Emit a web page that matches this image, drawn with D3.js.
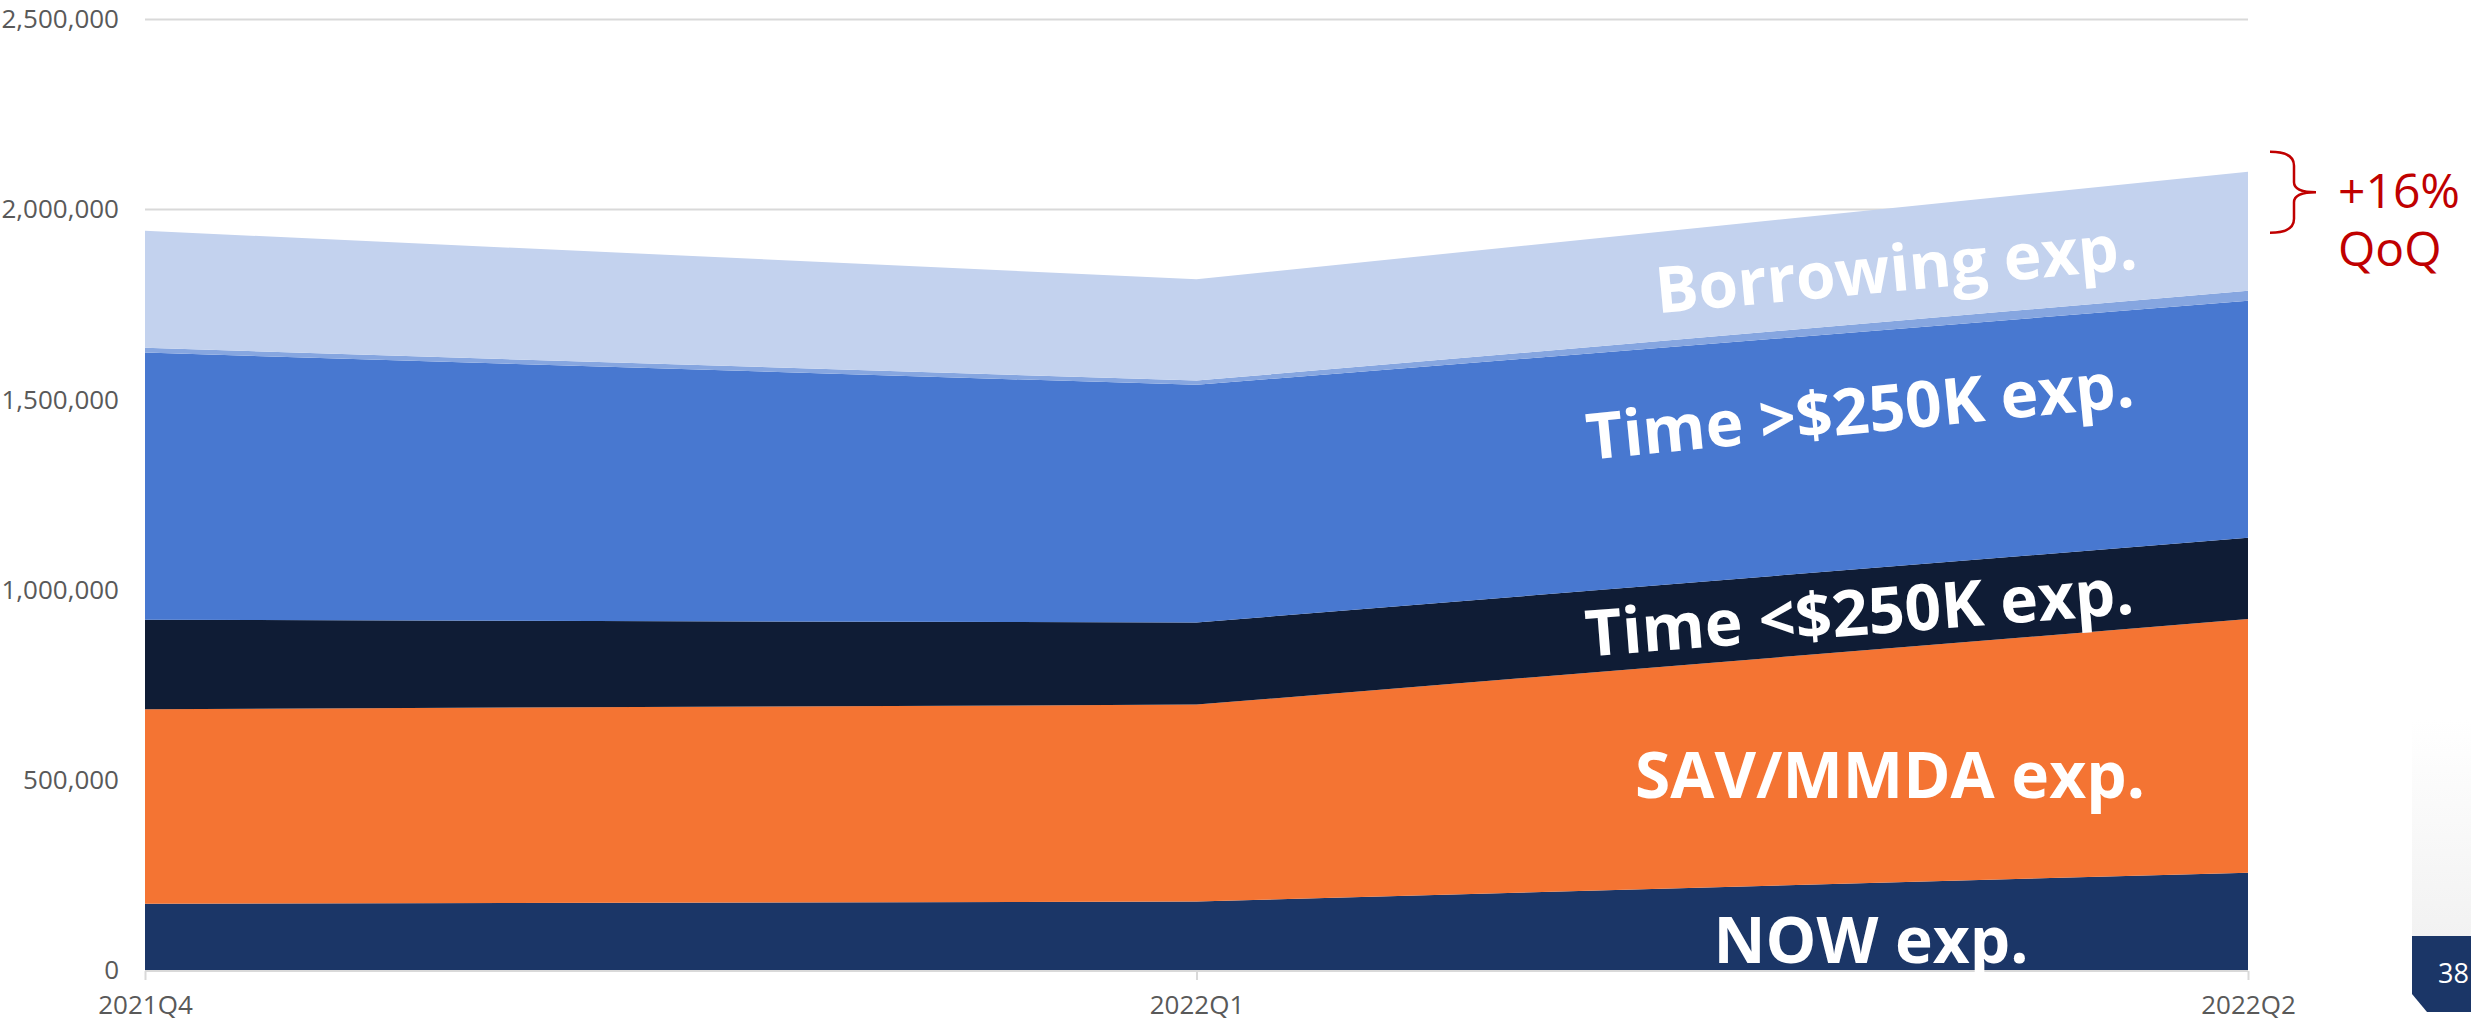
<!DOCTYPE html>
<html>
<head>
<meta charset="utf-8">
<script src="https://cdn.jsdelivr.net/npm/d3@7"></script>
<style>
  html, body { margin: 0; padding: 0; background: #fff; }
  svg { display: block; font-family: 'Open Sans', 'Noto Sans', sans-serif; }
</style>
</head>
<body>
<div id="chart"></div>
<script>
// quarters on the x axis
const quarters = ['2021Q4', '2022Q1', '2022Q2'];

// interest expense by deposit type, bottom to top
const nowExp = [174000, 180000, 256000];
const savExp = [512000, 518000, 667000];
const timeSmallExp = [235000, 216000, 214000];
const timeLargeExp = [703000, 625000, 623000];
const otherExp = [12400, 11300, 26300];
const borrowingExp = [307700, 266700, 313300];

const seriesKeys = ['now', 'sav', 'timeSmall', 'timeLarge', 'other', 'borrowing'];
const seriesColors = ['#1b3667', '#f47433', '#0f1c35', '#4878d0', '#86a6e0', '#c3d2ee'];

const yTicks = [0, 500000, 1000000, 1500000, 2000000, 2500000];

const qoqText = ['+16%', 'QoQ'];

const width = 2471;
const height = 1019;
const margin = { top: 19.5, right: 223, bottom: 49, left: 145 };

const svg = d3.select('#chart').append('svg')
  .attr('width', width)
  .attr('height', height);

const x = d3.scalePoint()
  .domain(quarters)
  .range([margin.left, width - margin.right]);

const y = d3.scaleLinear()
  .domain([0, 2500000])
  .range([height - margin.bottom, margin.top]);

/* ----------grid lines------------*/
svg.append('g')
  .selectAll('line')
  .data(yTicks)
  .enter().append('line')
  .attr('x1', margin.left)
  .attr('x2', width - margin.right)
  .attr('y1', d => y(d))
  .attr('y2', d => y(d))
  .attr('stroke', '#d9d9d9')
  .attr('stroke-width', 2);

/* ----------stacked areas------------*/
const table = quarters.map((q, i) => ({
  quarter: q,
  now: nowExp[i],
  sav: savExp[i],
  timeSmall: timeSmallExp[i],
  timeLarge: timeLargeExp[i],
  other: otherExp[i],
  borrowing: borrowingExp[i]
}));

const stacked = d3.stack().keys(seriesKeys)(table);

const area = d3.area()
  .x(d => x(d.data.quarter))
  .y0(d => y(d[0]))
  .y1(d => y(d[1]));

svg.append('g')
  .selectAll('path')
  .data(stacked)
  .enter().append('path')
  .attr('d', area)
  .attr('fill', (d, i) => seriesColors[i]);

/* ----------axes------------*/
const yAxis = svg.append('g')
  .attr('transform', 'translate(' + (margin.left - 26) + ',0)')
  .call(d3.axisLeft(y).tickValues(yTicks).tickSize(0).tickPadding(0).tickFormat(d3.format(',')));
yAxis.select('.domain').remove();
yAxis.selectAll('text')
  .attr('fill', '#595959')
  .attr('font-size', 26)
  .attr('font-family', "'Open Sans', sans-serif");

const xAxis = svg.append('g')
  .attr('transform', 'translate(0,' + (height - margin.bottom + 1) + ')')
  .call(d3.axisBottom(x).tickSize(9).tickPadding(16));
xAxis.select('.domain')
  .attr('stroke', '#d9d9d9')
  .attr('stroke-width', 2)
  .attr('d', 'M' + margin.left + ',0H' + (width - margin.right));
xAxis.selectAll('.tick line')
  .attr('stroke', '#d9d9d9')
  .attr('stroke-width', 2);
xAxis.selectAll('text')
  .attr('fill', '#595959')
  .attr('font-size', 26)
  .attr('font-family', "'Open Sans', sans-serif");

/* ----------series labels------------*/
const labels = [
  { text: 'Borrowing exp.', cx: 1898, cy: 291, angle: -5.3 },
  { text: 'Time >$250K exp.', cx: 1862, cy: 433, angle: -5.6 },
  { text: 'Time <$250K exp.', cx: 1861, cy: 635, angle: -4.5 },
  { text: 'SAV/MMDA exp.', cx: 1890, cy: 798, angle: 0 },
  { text: 'NOW exp.', cx: 1871, cy: 963, angle: 0 }
];

svg.append('g')
  .selectAll('text')
  .data(labels)
  .enter().append('text')
  .attr('transform', d => 'translate(' + d.cx + ',' + d.cy + ') rotate(' + d.angle + ')')
  .attr('text-anchor', 'middle')
  .attr('fill', '#fff')
  .attr('font-size', 64)
  .attr('font-weight', 700)
  .text(d => d.text);

/* ----------QoQ annotation------------*/
const lastTop = y(d3.sum(stacked, s => s[2][1] - s[2][0]));
const lastBorrowBase = y(stacked[4][2][1]);
const bx = 2270;
const bTop = lastTop - 20;
const bBot = lastBorrowBase - 58;
const bMid = (bTop + bBot) / 2;
svg.append('path')
  .attr('d', 'M' + bx + ',' + bTop +
    ' Q' + (bx + 24) + ',' + bTop + ' ' + (bx + 24) + ',' + (bTop + 14) +
    ' V' + (bMid - 10) +
    ' Q' + (bx + 24) + ',' + bMid + ' ' + (bx + 46) + ',' + bMid +
    ' Q' + (bx + 24) + ',' + bMid + ' ' + (bx + 24) + ',' + (bMid + 10) +
    ' V' + (bBot - 14) +
    ' Q' + (bx + 24) + ',' + bBot + ' ' + bx + ',' + bBot)
  .attr('fill', 'none')
  .attr('stroke', '#c00000')
  .attr('stroke-width', 2.5);

svg.append('g')
  .selectAll('text')
  .data(qoqText)
  .enter().append('text')
  .attr('x', 2338)
  .attr('y', (d, i) => 208 + i * 58)
  .attr('fill', '#c00000')
  .attr('font-size', 48)
  .text(d => d);

/* ----------page number tab------------*/
const grad = svg.append('defs').append('linearGradient')
  .attr('id', 'tabFade')
  .attr('x1', 0).attr('x2', 0).attr('y1', 0).attr('y2', 1);
grad.append('stop').attr('offset', '0%').attr('stop-color', '#ffffff');
grad.append('stop').attr('offset', '100%').attr('stop-color', '#f2f2f2');

svg.append('rect')
  .attr('x', 2412).attr('y', 720)
  .attr('width', 59).attr('height', 216)
  .attr('fill', 'url(#tabFade)');

svg.append('path')
  .attr('d', 'M2412,936H2471V1012H2427L2412,994Z')
  .attr('fill', '#1b3667');

svg.append('text')
  .attr('x', 2438)
  .attr('y', 983)
  .attr('fill', '#fff')
  .attr('font-size', 27)
  .text('38');
</script>
</body>
</html>
